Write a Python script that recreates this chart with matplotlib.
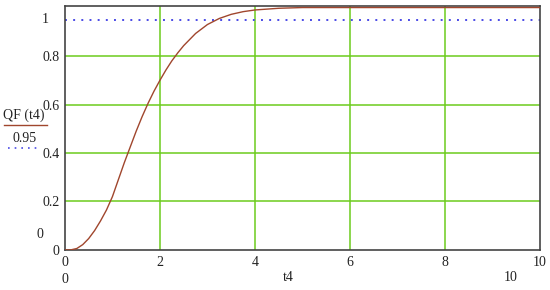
import numpy as np
import matplotlib.pyplot as plt
from matplotlib.lines import Line2D

# values
t4 = [0, 0.125, 0.25, 0.375, 0.5, 0.625, 0.75, 0.875, 1.0, 1.125, 1.25,
      1.375, 1.5, 1.625, 1.75, 1.875, 2.0, 2.125, 2.25, 2.375, 2.5, 2.75,
      3.0, 3.25, 3.5, 3.75, 4.0, 4.5, 5.0, 6.0, 8.0, 10.0]
qf = [0, 0.0005, 0.006, 0.022, 0.047, 0.08, 0.12, 0.165, 0.22, 0.29, 0.36,
      0.425, 0.49, 0.55, 0.605, 0.655, 0.70, 0.742, 0.78, 0.813, 0.843, 0.893,
      0.93, 0.955, 0.972, 0.983, 0.99, 0.997, 1.0, 1.0, 1.0, 1.0]
level = 0.95
xticks = [0, 2, 4, 6, 8, 10]
yticks = [0, 0.2, 0.4, 0.6, 0.8]

plt.rcParams['font.family'] = ['Liberation Serif', 'DejaVu Serif']

fig = plt.figure(figsize=(5.5, 2.9), dpi=100)
ax = fig.add_axes([0.118, 0.138, 0.864, 0.841])

grid_col = "#6ccc1c"
for y in yticks[1:]:
    ax.axhline(y, color=grid_col, lw=1.1, zorder=1)
for x in xticks[1:-1]:
    ax.axvline(x, color=grid_col, lw=1.1, zorder=1)

ax.plot(t4, qf, color="#a0462d", lw=1.0, zorder=3)
ax.plot([0, 10], [level, level], color="#4a4ae6", lw=1.4,
        linestyle=(0, (1, 3.2)), zorder=2)

ax.set_xlim(0, 10)
ax.set_ylim(0, 1.006)
ax.set_xticks(xticks)
ax.set_xticklabels([str(x) for x in xticks])
ax.set_yticks(yticks)
ax.set_yticklabels(["0", "0.2", "0.4", "0.6", "0.8"])
ax.tick_params(length=0, labelsize=10, colors="#222222", pad=4)
for s in ax.spines.values():
    s.set_color("#444444")
    s.set_linewidth(1.2)

# "1" label as Mathcad places it
ax.text(-0.35, 0.95, "1", ha="right", va="center", fontsize=10,
        color="#222222")

# left legend-like labels
fig.text(0.005, 0.59, "QF (t4)", fontsize=10, color="#222222")
fig.add_artist(Line2D([0.008, 0.085], [0.568, 0.568], color="#a0462d", lw=1.0))
fig.text(0.022, 0.51, "0.95", fontsize=10, color="#222222")
fig.add_artist(Line2D([0.014, 0.07], [0.49, 0.49], color="#4a4ae6", lw=1.2,
                      linestyle=(0, (1, 3))))
fig.text(0.067, 0.18, "0", fontsize=10, color="#222222")

# x-range labels below
fig.text(0.118, 0.025, "0", ha="center", fontsize=10, color="#222222")
fig.text(0.525, 0.03, "t4", ha="center", fontsize=10, color="#222222")
fig.text(0.928, 0.03, "10", ha="center", fontsize=10, color="#222222")

fig.savefig("out.png", dpi=100)
